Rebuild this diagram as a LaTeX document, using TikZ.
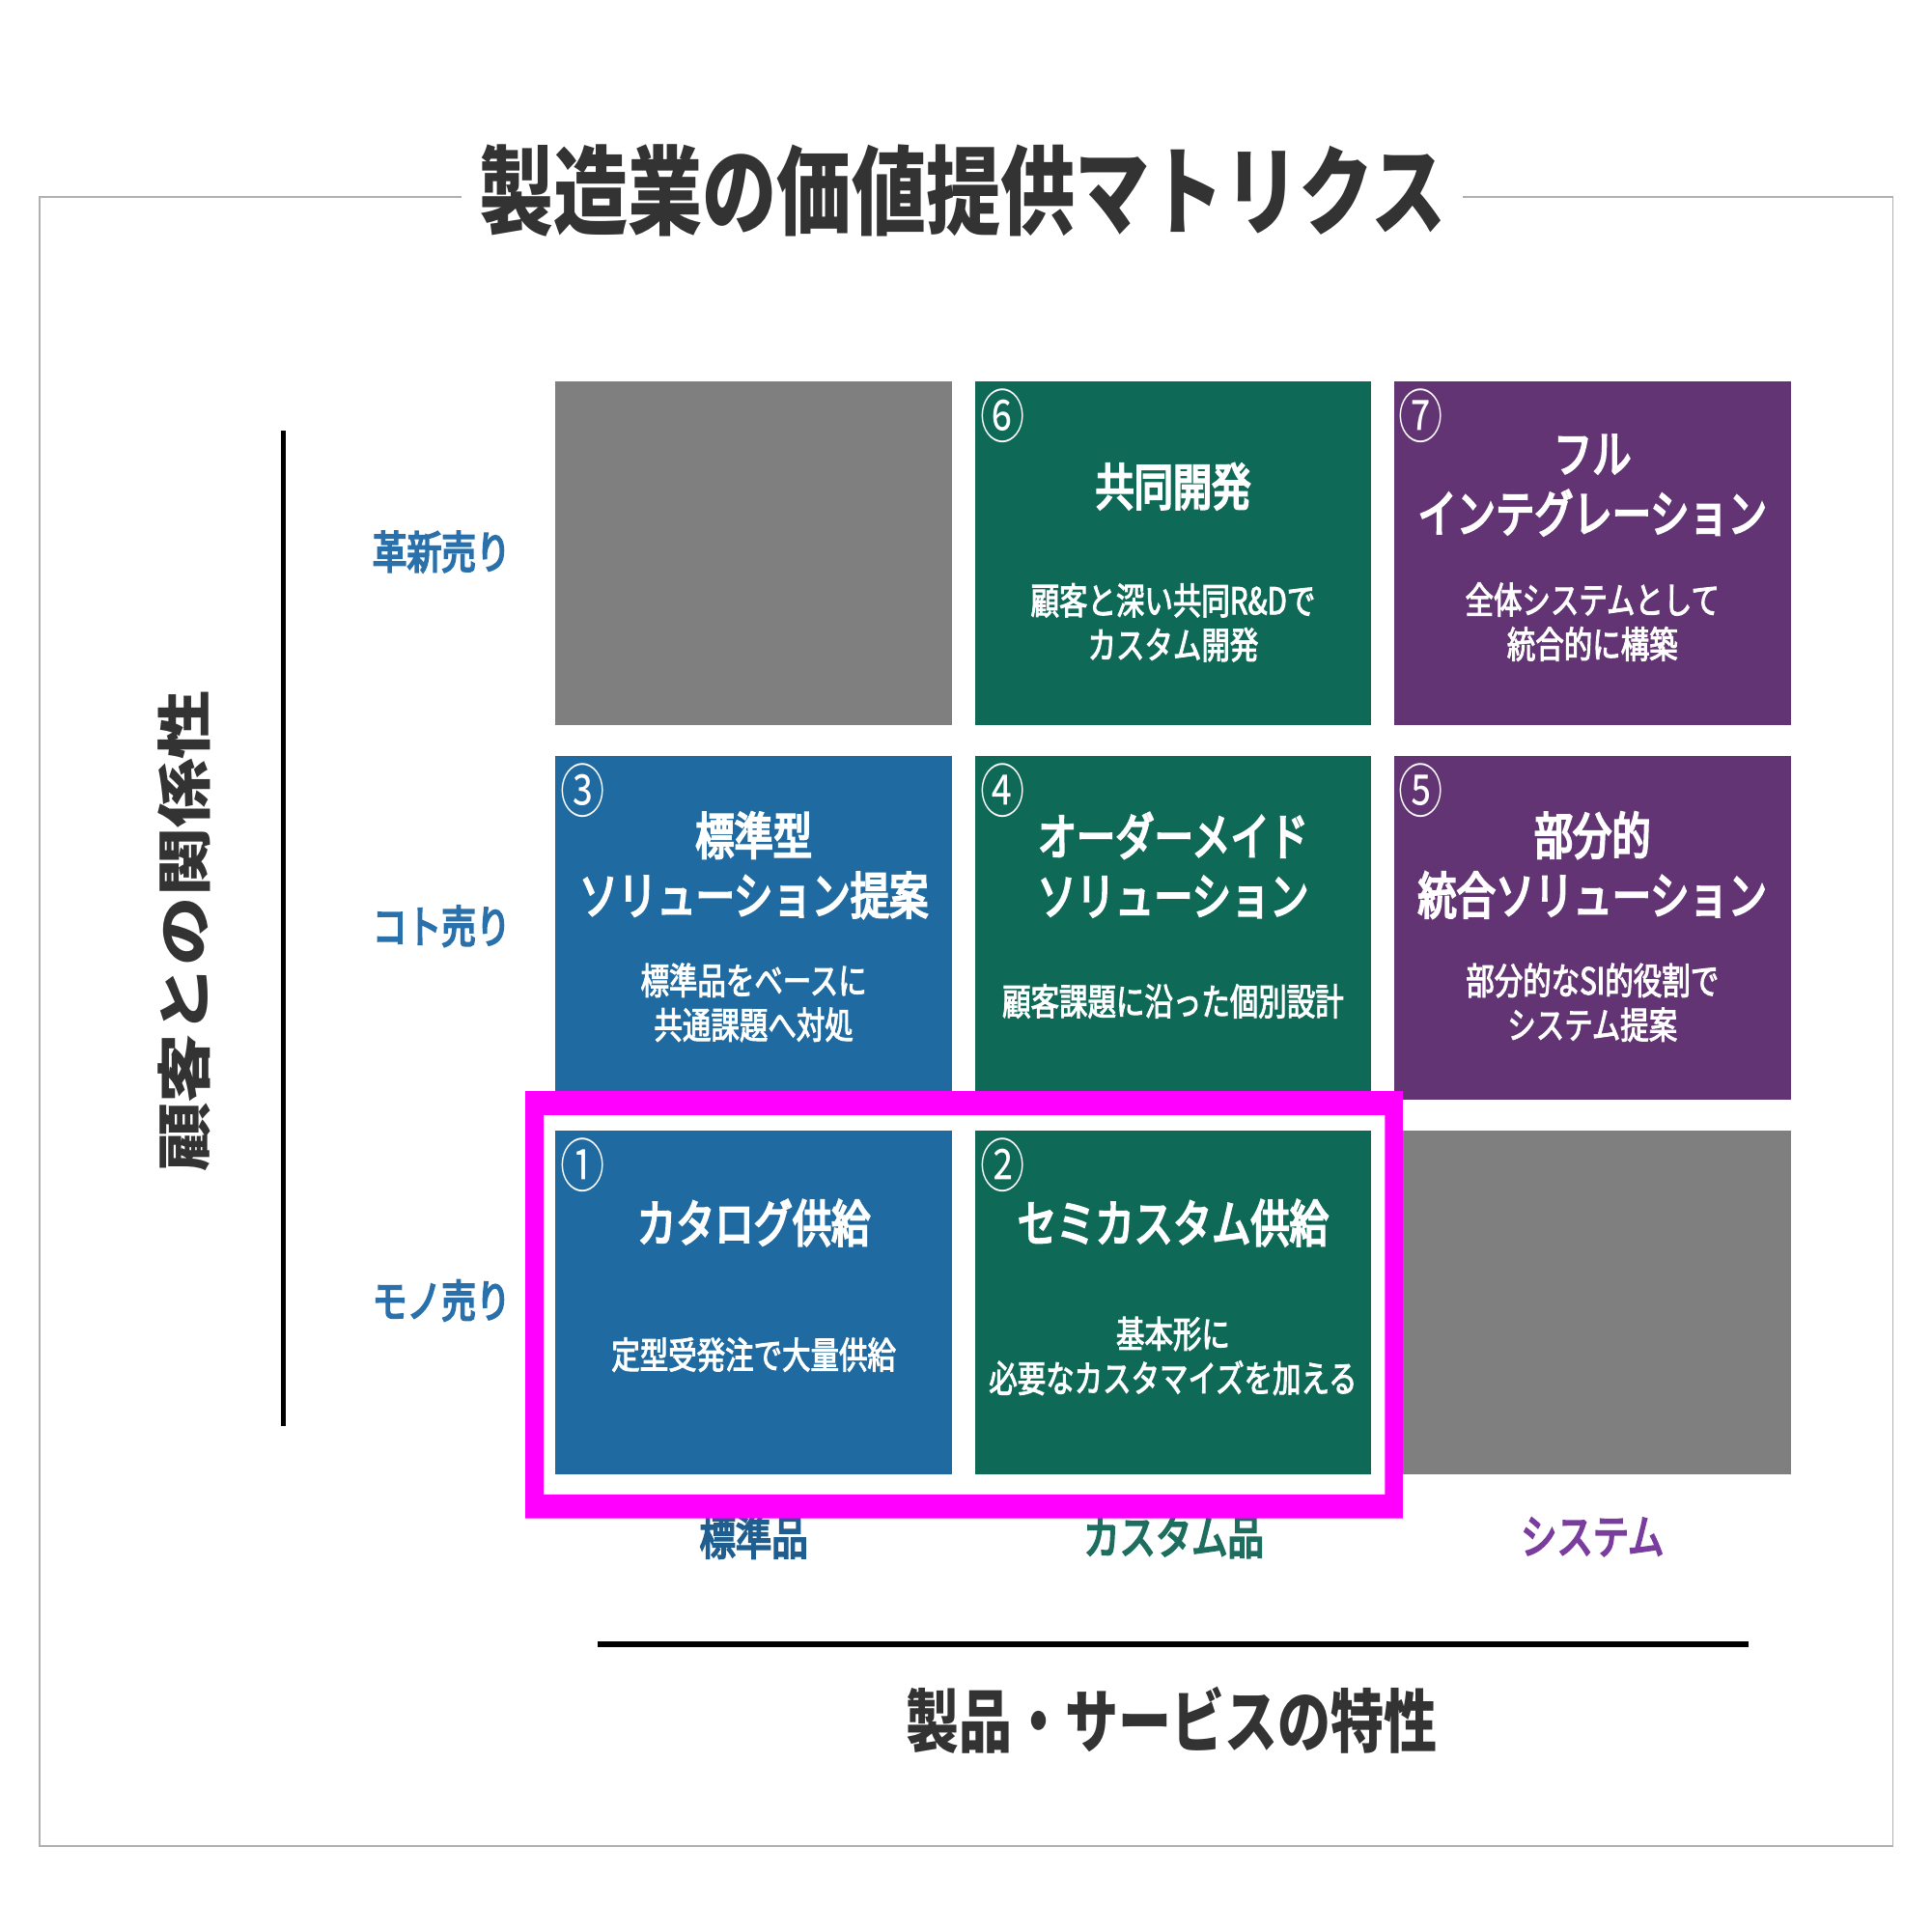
\documentclass[tikz,border=0pt]{standalone}
\usepackage{fontspec}
\usepackage{graphicx}
\newfontfamily\jp[FakeStretch=0.77]{Noto Sans CJK JP}
\newfontfamily\jpm[FakeStretch=0.77,FakeBold=2.5]{Noto Sans CJK JP}
\newfontfamily\jpmb[FakeStretch=0.77,FakeBold=4]{Noto Sans CJK JP}
\newfontfamily\jpr{Noto Sans CJK JP}
\definecolor{cblue}{HTML}{1F6AA0}
\definecolor{cgreen}{HTML}{0E6956}
\definecolor{cpurple}{HTML}{633474}
\definecolor{cgray}{HTML}{7F7F7F}
\definecolor{rowblue}{HTML}{2A71AC}
\definecolor{colblue}{HTML}{1F5E8E}
\definecolor{colgreen}{HTML}{1D6E5F}
\definecolor{colpurple}{HTML}{7A3D9E}
\definecolor{darktext}{HTML}{333333}
\definecolor{framegray}{HTML}{B0B0B0}
\definecolor{hilite}{HTML}{FF00FF}
\begin{document}
\begin{tikzpicture}[x=0.5pt,y=-0.5pt,
  cellbox/.style={minimum width=161pt,minimum height=139.5pt,inner sep=0pt,draw=none},
  numlbl/.style={text=white,inner sep=0pt,font=\jp\fontsize{23.5pt}{26pt}\selectfont},
  celltitle/.style={text=white,inner sep=0pt,align=center,font=\jpmb\fontsize{20.5pt}{24.25pt}\selectfont},
  cellsub/.style={text=white,inner sep=0pt,align=center,font=\jpm\fontsize{15pt}{18pt}\selectfont},
  rowlbl/.style={text=rowblue,inner sep=0pt,font=\jpmb\fontsize{18.2pt}{20pt}\selectfont},
  collbl/.style={inner sep=0pt,font=\jpmb\fontsize{19pt}{21pt}\selectfont},
  axislbl/.style={text=darktext,inner sep=0pt,font=\jp\bfseries\fontsize{28pt}{30pt}\selectfont}]
\useasboundingbox (0,0) rectangle (1568,1568);
% outer frame
\draw[framegray,line width=0.75pt] (32,160) rectangle (1537,1499);
% title
\node[fill=white,inner xsep=7pt,inner ysep=2pt,text=darktext,font=\jp\bfseries\fontsize{39.3pt}{42pt}\selectfont] (title) at (781.5,155) {製造業の価値提供マトリクス};
% axis lines
\coordinate (vtop) at (230,350);
\coordinate (vbot) at (230,1158);
\draw[black,line width=2pt] (vtop) -- (vbot);
\coordinate (hl) at (485,1335);
\coordinate (hr) at (1420,1335);
\draw[black,line width=2.5pt] (hl) -- (hr);
% axis labels
\node[axislbl,rotate=90,font=\jpr\bfseries\fontsize{28pt}{30pt}\selectfont] (ylab) at (150,756) {\scalebox{1}[0.8]{顧客との関係性}};
\node[axislbl] (xlab) at (951,1397) {製品・サービスの特性};
% row labels
\node[rowlbl] (r1) at (358.5,448) {革新売り};
\node[rowlbl] (r2) at (358.5,752) {コト売り};
\node[rowlbl] (r3) at (358.5,1056) {モノ売り};
% column labels
\node[collbl,text=colblue] (k1) at (612,1248) {標準品};
\node[collbl,text=colgreen] (k2) at (953,1248) {カスタム品};
\node[collbl,text=colpurple] (k3) at (1293,1248) {システム};
% cells
\node[cellbox,fill=cgray] (g1) at (612,449.5) {};
\node[cellbox,fill=cgreen] (c6) at (952.5,449.5) {};
\node[cellbox,fill=cpurple] (c7) at (1293,449.5) {};
\node[cellbox,fill=cblue] (c3) at (612,753.5) {};
\node[cellbox,fill=cgreen] (c4) at (952.5,753.5) {};
\node[cellbox,fill=cpurple] (c5) at (1293,753.5) {};
\node[cellbox,fill=cblue] (c1) at (612,1057.5) {};
\node[cellbox,fill=cgreen] (c2) at (952.5,1057.5) {};
\node[cellbox,fill=cgray] (g2) at (1293,1057.5) {};
% highlight frame
\fill[hilite,even odd rule] (426.5,886) rectangle (1139,1233) (441.5,905.5) rectangle (1124.5,1213.5);
% numbers
\node[numlbl] (n6) at (814,338) {⑥};
\node[numlbl] (n7) at (1154,338) {⑦};
\node[numlbl] (n3) at (473,642) {③};
\node[numlbl] (n4) at (814,642) {④};
\node[numlbl] (n5) at (1154,642) {⑤};
\node[numlbl] (n1) at (473,946) {①};
\node[numlbl] (n2) at (814,946) {②};
% cell 6
\node[celltitle] (t6) at (952.5,395) {共同開発};
\node[cellsub] (s6) at (952.5,505.5) {顧客と深い共同R\&Dで\\カスタム開発};
% cell 7
\node[celltitle] (t7) at (1293,394) {フル\\インテグレーション};
\node[cellsub] (s7) at (1293,505) {全体システムとして\\統合的に構築};
% cell 3
\node[celltitle] (t3) at (612,702.5) {標準型\\ソリューション提案};
\node[cellsub] (s3) at (612,814) {標準品をベースに\\共通課題へ対処};
% cell 4
\node[celltitle] (t4) at (952.5,702.5) {オーダーメイド\\ソリューション};
\node[cellsub] (s4) at (952.5,813) {顧客課題に沿った個別設計};
% cell 5
\node[celltitle] (t5) at (1293,702.5) {部分的\\統合ソリューション};
\node[cellsub] (s5) at (1293,814) {部分的なSI的役割で\\システム提案};
% cell 1
\node[celltitle] (t1) at (612,993) {カタログ供給};
\node[cellsub] (s1) at (612,1100) {定型受発注で大量供給};
% cell 2
\node[celltitle] (t2) at (952.5,993) {セミカスタム供給};
\node[cellsub] (s2) at (952.5,1101) {基本形に\\必要なカスタマイズを加える};
\end{tikzpicture}
\end{document}
